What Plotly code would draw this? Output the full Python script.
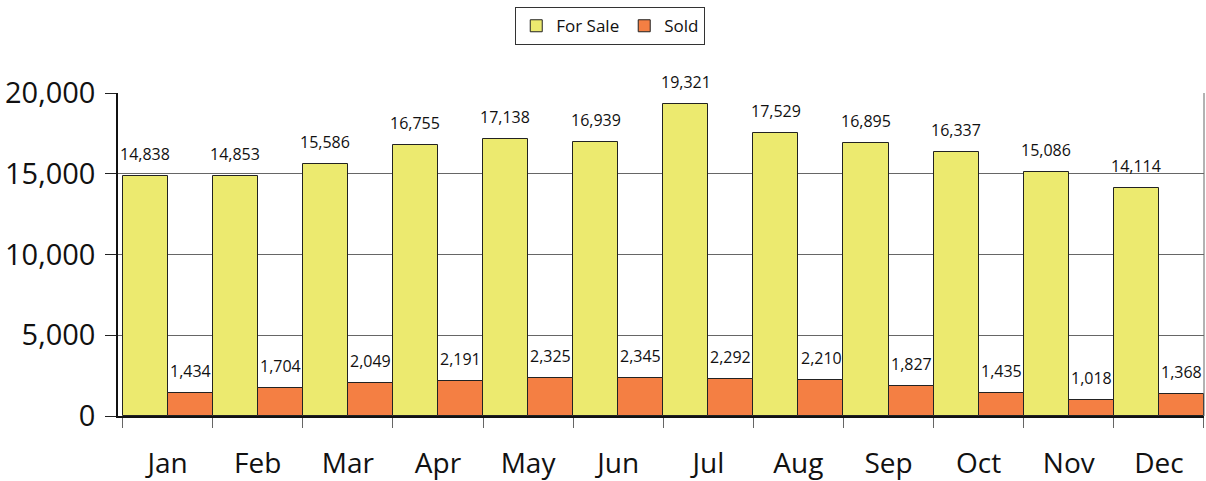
import plotly.graph_objects as go

months = ["Jan", "Feb", "Mar", "Apr", "May", "Jun", "Jul", "Aug", "Sep", "Oct", "Nov", "Dec"]
for_sale = [14838, 14853, 15586, 16755, 17138, 16939, 19321, 17529, 16895, 16337, 15086, 14114]
sold = [1434, 1704, 2049, 2191, 2325, 2345, 2292, 2210, 1827, 1435, 1018, 1368]

FONT = "Open Sans"
W, H = 1206, 481
L, R, T, B = 118, 2, 93, 65
cat_w = (W - L - R) / len(months)

fig = go.Figure()
fig.add_trace(go.Bar(
    x=months, y=for_sale, name="For Sale",
    marker=dict(color="#ECEA6F", line=dict(color="#222222", width=1)),
))
fig.add_trace(go.Bar(
    x=months, y=sold, name="Sold",
    marker=dict(color="#F47F43", line=dict(color="#222222", width=1)),
))

# value labels above each bar
for series, shift in ((for_sale, -cat_w / 4), (sold, cat_w / 4)):
    for m, v in zip(months, series):
        fig.add_annotation(
            x=m, y=v, text=f"{v:,}", showarrow=False,
            xshift=shift, yshift=9, yanchor="bottom",
            font=dict(size=16, family=FONT, color="#111111"),
        )

fig.update_layout(
    width=W, height=H,
    margin=dict(l=L, r=R, t=T, b=B, autoexpand=False),
    paper_bgcolor="white", plot_bgcolor="white",
    barmode="group", bargap=0, bargroupgap=0,
    font=dict(family=FONT, color="#111111"),
    showlegend=True,
    legend=dict(
        orientation="h", x=0.506, xanchor="center", y=0.985, yanchor="top",
        xref="container", yref="container",
        bordercolor="#333333", borderwidth=1,
        font=dict(size=17, family=FONT),
        itemwidth=30, tracegroupgap=0,
    ),
)
fig.add_shape(type="line", xref="paper", yref="paper", x0=1, x1=1, y0=0, y1=1,
              line=dict(color="#666666", width=1))
fig.update_xaxes(
    showline=True, linecolor="#111111", linewidth=1.5,
    ticks="outside", tickson="boundaries", ticklen=10, tickcolor="#666666",
    tickfont=dict(size=28, family=FONT),
    ticklabelstandoff=22,
    showgrid=False, automargin=False,
)
fig.update_yaxes(
    range=[0, 20000], tickvals=[0, 5000, 10000, 15000, 20000],
    tickformat=",d",
    showline=True, linecolor="#111111", linewidth=1.5,
    ticks="outside", ticklen=11, tickcolor="#222222",
    tickfont=dict(size=29, family=FONT),
    ticklabelstandoff=4,
    showgrid=True, gridcolor="#666666", gridwidth=1,
    zeroline=False, automargin=False,
)

fig.write_html(
    "out.html",
    config={"displayModeBar": False},
    post_script="document.body.style.margin='0';document.body.style.overflow='hidden';",
)
